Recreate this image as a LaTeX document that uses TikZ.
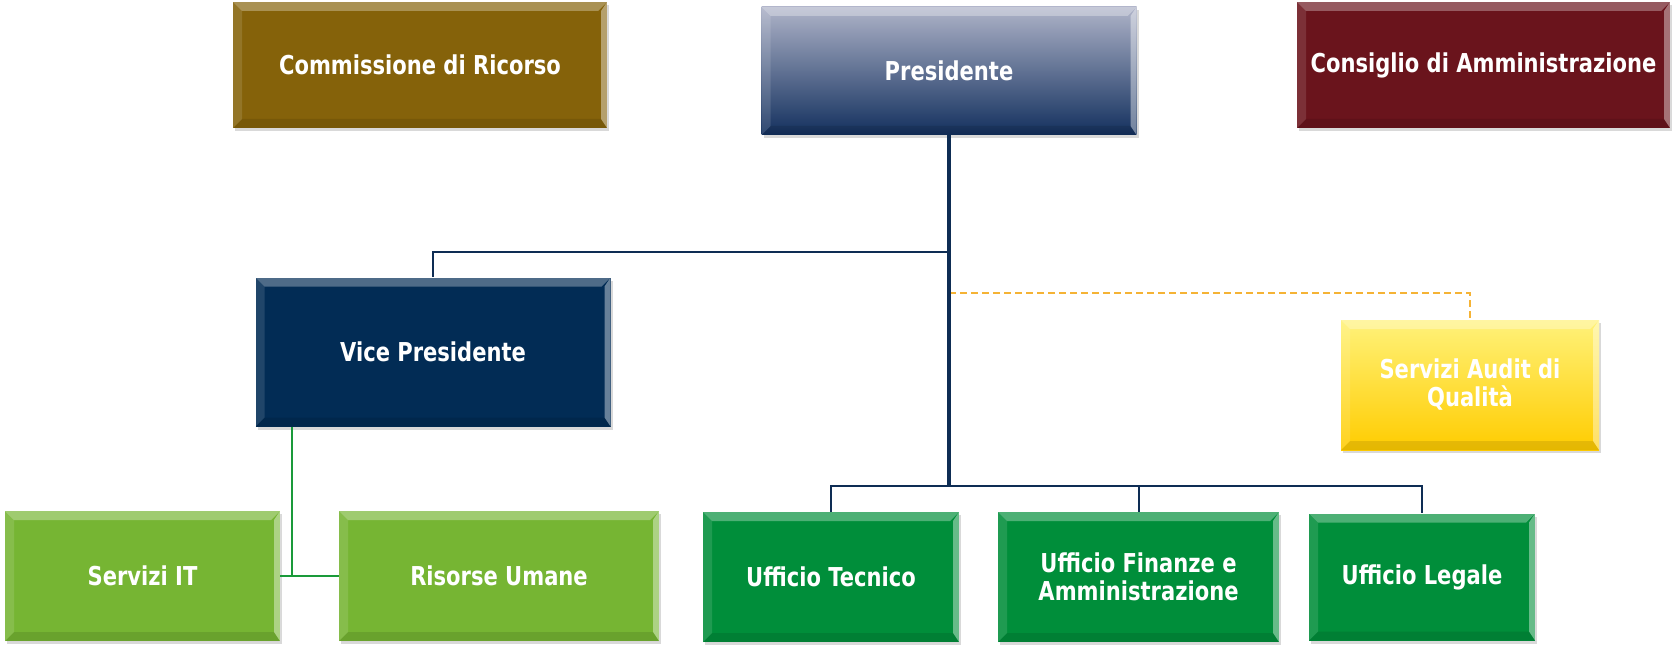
\documentclass[tikz,border=0pt]{standalone}
\usepackage{fontspec}
\newfontfamily\boxfont[FakeStretch=0.81]{DejaVu Sans}
\usetikzlibrary{shadows}

\definecolor{comcol}{HTML}{85620A}
\definecolor{conscol}{HTML}{6A141C}
\definecolor{vpcol}{HTML}{022C55}
\definecolor{prestop}{HTML}{AEB3C8}
\definecolor{presbot}{HTML}{13305E}
\definecolor{audittop}{HTML}{FFF27A}
\definecolor{auditbot}{HTML}{FFCC00}
\definecolor{lightgreen}{HTML}{76B533}
\definecolor{officegreen}{HTML}{008E3A}
\definecolor{linecol}{HTML}{0E2D54}
\definecolor{dashcol}{HTML}{F5B335}
\definecolor{glinecol}{HTML}{1A9A3A}

\tikzset{
  orgbox/.style={rectangle, inner sep=0pt, text=white, align=center,
    font=\boxfont\bfseries\fontsize{26}{28}\selectfont,
    drop shadow={shadow xshift=2pt, shadow yshift=-3pt, opacity=0.3},
    path picture={
      \coordinate (bnw) at (path picture bounding box.north west);
      \coordinate (bne) at (path picture bounding box.north east);
      \coordinate (bsw) at (path picture bounding box.south west);
      \coordinate (bse) at (path picture bounding box.south east);
      % bevel edges
      \fill[white,opacity=.3] (bnw) -- (bne) -- ([xshift=-9pt,yshift=-9pt]bne) -- ([xshift=9pt,yshift=-9pt]bnw) -- cycle;
      \fill[white,opacity=.12] (bnw) -- ([xshift=9pt,yshift=-9pt]bnw) -- ([xshift=9pt,yshift=9pt]bsw) -- (bsw) -- cycle;
      \fill[white,opacity=.4] (bne) -- (bse) -- ([xshift=-6pt,yshift=9pt]bse) -- ([xshift=-6pt,yshift=-9pt]bne) -- cycle;
      \fill[black,opacity=.1] (bsw) -- ([xshift=9pt,yshift=9pt]bsw) -- ([xshift=-6pt,yshift=9pt]bse) -- (bse) -- cycle;
    }},
  link/.style={draw=linecol, line width=2pt},
  trunk/.style={draw=linecol, line width=3.5pt},
  auditlink/.style={draw=dashcol, line width=2pt, dash pattern=on 7pt off 4pt},
  greenlink/.style={draw=glinecol, line width=2pt},
}

\begin{document}
\begin{tikzpicture}[x=1pt,y=-1pt]
    \useasboundingbox (0,0) rectangle (1672,647);

    % top row
    \node[orgbox, fill=comcol, minimum width=374pt, minimum height=126pt] (com) at (420,65) {Commissione di Ricorso};
    \node[orgbox, top color=prestop, bottom color=presbot, minimum width=375pt, minimum height=128pt] (pres) at (949,71) {Presidente};
    \node[orgbox, fill=conscol, minimum width=373pt, minimum height=126pt] (cons) at (1483.5,65) {Consiglio di Amministrazione};

    % middle row
    \node[orgbox, fill=vpcol, minimum width=355pt, minimum height=149pt] (vp) at (433,352) {Vice Presidente};
    \node[orgbox, top color=audittop, bottom color=auditbot, minimum width=258pt, minimum height=130pt] (audit) at (1470,385) {Servizi Audit di\\Qualità};

    % bottom row
    \node[orgbox, fill=lightgreen, minimum width=275pt, minimum height=130pt] (it) at (142.5,576) {Servizi IT};
    \node[orgbox, fill=lightgreen, minimum width=320pt, minimum height=130pt] (hr) at (499,576) {Risorse Umane};
    \node[orgbox, fill=officegreen, minimum width=256pt, minimum height=130pt] (tec) at (831,577) {Ufficio Tecnico};
    \node[orgbox, fill=officegreen, minimum width=281pt, minimum height=130pt] (fin) at (1138.5,577) {Ufficio Finanze e\\Amministrazione};
    \node[orgbox, fill=officegreen, minimum width=226pt, minimum height=127pt] (leg) at (1422,577) {Ufficio Legale};

    % junctions on the trunk
    \coordinate (vpj) at (949,252);
    \coordinate (auj) at (949,293);
    \coordinate (hub) at (949,486);

    % connectors
    \draw[link] (vpj) -| (vp.north);
    \draw[auditlink] (auj) -| (audit.north);
    \draw[link] (tec.north) |- (hub) -| (leg.north);
    \draw[link] (fin.north) -- (fin.north |- hub);
    \draw[trunk] (pres.south) -- (hub);

    \draw[greenlink] ([xshift=-141pt]vp.south) -- ([xshift=-141pt]vp.south |- it.east);
    \draw[greenlink] (it.east) -- (hr.west);
\end{tikzpicture}
\end{document}
